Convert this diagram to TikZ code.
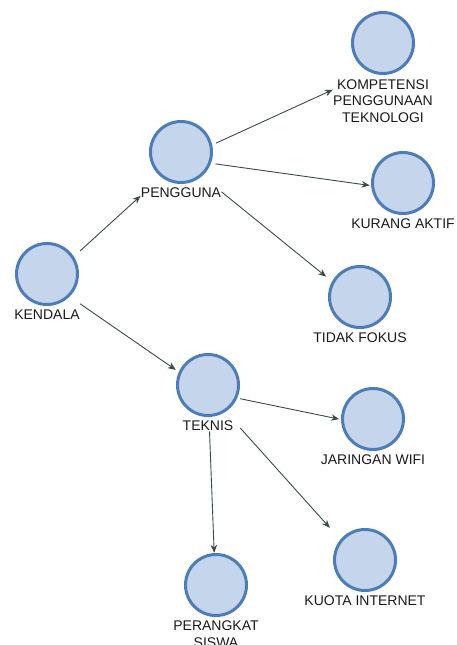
\documentclass[tikz,border=0pt]{standalone}
\usepackage{fontspec}
\setmainfont{Liberation Sans}
\usepackage{xcolor}
\usepackage{tikz}
\usetikzlibrary{positioning, fit, arrows.meta}
\definecolor{nodefill}{RGB}{197,213,235}
\definecolor{nodeline}{RGB}{76,125,186}
\definecolor{linkgray}{RGB}{58,74,68}
\tikzstyle{concept} = [circle, minimum size=61pt, inner sep=0pt, line width=3pt, draw=nodeline, fill=nodefill]
\tikzstyle{namelabel} = [font=\fontsize{14}{16.5}\selectfont, align=center, inner sep=0pt, text=black!90]
\tikzstyle{group} = [inner sep=0pt, draw=none]
\tikzstyle{arrow} = [line width=0.9pt, ->, >={Stealth[length=8pt, width=6.5pt]}, draw=linkgray]

\begin{document}
\begin{tikzpicture}[x=1pt, y=1pt, on grid, node distance=41pt]
		\useasboundingbox (0,0) rectangle (456,-645);
		
		\node (kendala) [concept] at (47,-274) {};
		\node (kendalaT) [namelabel, below=of kendala] {KENDALA};
		\node (pengguna) [concept, above right=122pt and 134pt of kendala] {};
		\node (penggunaT) [namelabel, below=of pengguna] {PENGGUNA};
		\node (kompetensi) [concept, above right=109pt and 202pt of pengguna] {};
		\node (kompetensiT) [namelabel, below=58pt of kompetensi] {KOMPETENSI\\PENGGUNAAN\\TEKNOLOGI};
		\node (kurang) [concept, below right=31pt and 222pt of pengguna] {};
		\node (kurangT) [namelabel, below=of kurang] {KURANG AKTIF};
		\node (tidak) [concept, below right=145pt and 179pt of pengguna] {};
		\node (tidakT) [namelabel, below=of tidak] {TIDAK FOKUS};
		\node (teknis) [concept, below right=111pt and 161pt of kendala] {};
		\node (teknisT) [namelabel, below=of teknis] {TEKNIS};
		\node (jaringan) [concept, below right=34pt and 165pt of teknis] {};
		\node (jaringanT) [namelabel, below=of jaringan] {JARINGAN WIFI};
		\node (kuota) [concept, below right=175pt and 157pt of teknis] {};
		\node (kuotaT) [namelabel, below=of kuota] {KUOTA INTERNET};
		\node (perangkat) [concept, below right=200pt and 8pt of teknis] {};
		\node (perangkatT) [namelabel, below=49pt of perangkat] {PERANGKAT\\SISWA};
		
		\node (kendalaG) [group, fit=(kendala)(kendalaT)] {};
		\node (penggunaG) [group, fit=(pengguna)(penggunaT)] {};
		\node (kompetensiG) [group, fit=(kompetensi)(kompetensiT)] {};
		\node (kurangG) [group, fit=(kurang)(kurangT)] {};
		\node (tidakG) [group, fit=(tidak)(tidakT)] {};
		\node (teknisG) [group, fit=(teknis)(teknisT)] {};
		\node (jaringanG) [group, fit=(jaringan)(jaringanT)] {};
		\node (kuotaG) [group, fit=(kuota)(kuotaT)] {};
		\node (perangkatG) [group, fit=(perangkat)(perangkatT)] {};
		
		\draw [arrow] (kendalaG) -- (penggunaG);
		\draw [arrow, shorten <=-6pt] (penggunaG) -- (kompetensiG);
		\draw [arrow, shorten <=-6pt, shorten >=-19pt] (penggunaG) -- (kurangG);
		\draw [arrow, shorten >=-17pt] (penggunaG) -- (tidakG);
		\draw [arrow] (kendalaG) -- (teknisG);
		\draw [arrow, shorten >=-19pt] (teknisG) -- (jaringanG);
		\draw [arrow] (teknisG) -- (kuotaG);
		\draw [arrow] (teknisG) -- (perangkatG);
	\end{tikzpicture}
\end{document}
